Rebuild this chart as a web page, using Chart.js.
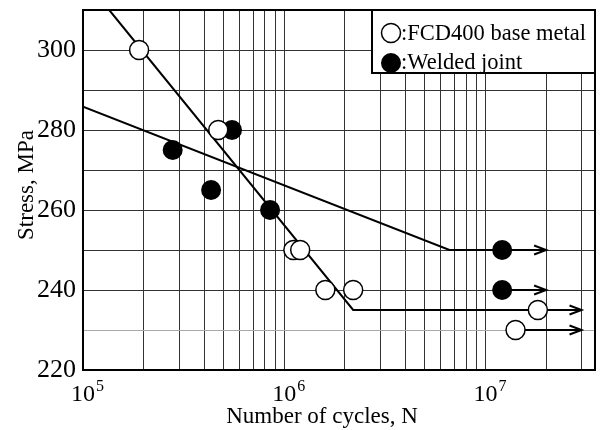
<!DOCTYPE html>
<html>
<head>
<meta charset="utf-8">
<script src="https://cdn.jsdelivr.net/npm/chart.js@4"></script>
<style>
  body { margin: 0; background: #fff; }
  #sn { display: block; }
</style>
</head>
<body>
<canvas id="sn" width="603" height="430"></canvas>
<script>
// test results
const baseCycles = [1.9e5, 4.7e5, 1.11e6, 1.2e6, 1.6e6, 2.2e6, 1.82e7, 1.41e7];
const baseStress = [300, 280, 250, 250, 240, 240, 235, 230];
const weldCycles = [2.79e5, 4.33e5, 5.5e5, 8.5e5, 1.21e7, 1.21e7];
const weldStress = [275, 265, 280, 260, 250, 240];

// S-N curves
const baseCurveCycles = [1.35e5, 2.2e6, 1.82e7];
const baseCurveStress = [310, 235, 235];
const weldCurveCycles = [1e5, 6.62e6, 1.21e7];
const weldCurveStress = [285.8, 250, 250];

// run-out arrows (not failed)
const runoutFrom = [1.21e7, 1.21e7, 1.82e7, 1.41e7];
const runoutTo = [2e7, 2e7, 3e7, 3e7];
const runoutStress = [250, 240, 235, 230];

// axes
const xDecades = [1e5, 1e6, 1e7];
const xDecadeExp = ['5', '6', '7'];
const xGridValues = [];
for (const d of [1e5, 1e6, 1e7]) {
  for (let m = 1; m <= 9; m++) xGridValues.push(m * d);
}
const yTickValues = [220, 230, 240, 250, 260, 270, 280, 290, 300, 310];
const yLabelValues = [220, 240, 260, 280, 300];

const legendLabels = [':FCD400 base metal', ':Welded joint'];
const xTitle = 'Number of cycles, N';
const yTitle = 'Stress, MPa';

const FONT = "'Liberation Serif', 'Times New Roman', serif";
const X_MIN = 1e5, X_MAX = 3.5e7;

const pts = (xs, ys) => xs.map((x, i) => ({ x: x, y: ys[i] }));

const datasets = [
  {
    label: 'FCD400 base metal',
    data: pts(baseCycles, baseStress),
    pointRadius: 9.5,
    pointBackgroundColor: '#fff',
    pointBorderColor: '#000',
    pointBorderWidth: 1.5,
    showLine: false,
    order: 0
  },
  {
    label: 'Welded joint',
    data: pts(weldCycles, weldStress),
    pointRadius: 10,
    pointBackgroundColor: '#000',
    pointBorderColor: '#000',
    pointBorderWidth: 0,
    showLine: false,
    order: 1
  },
  {
    label: 'base curve',
    data: pts(baseCurveCycles, baseCurveStress),
    showLine: true,
    borderColor: '#000',
    borderWidth: 2,
    pointRadius: 0,
    order: 5
  },
  {
    label: 'weld curve',
    data: pts(weldCurveCycles, weldCurveStress),
    showLine: true,
    borderColor: '#000',
    borderWidth: 2,
    pointRadius: 0,
    order: 5
  }
];

runoutStress.forEach((s, i) => {
  datasets.push({
    label: 'runout ' + i,
    data: [{ x: runoutFrom[i], y: s }, { x: runoutTo[i], y: s }],
    showLine: true,
    borderColor: '#000',
    borderWidth: 1.8,
    pointRadius: 0,
    arrow: true,
    order: 6
  });
});

const decor = {
  id: 'decor',
  afterDatasetsDraw(chart) {
    const ctx = chart.ctx;
    // arrow heads at the end of run-out lines
    ctx.save();
    ctx.strokeStyle = '#000';
    ctx.lineWidth = 2;
    chart.data.datasets.forEach((ds, i) => {
      if (!ds.arrow) return;
      const el = chart.getDatasetMeta(i).data[1];
      ctx.beginPath();
      ctx.moveTo(el.x - 12, el.y - 4.5);
      ctx.lineTo(el.x, el.y);
      ctx.lineTo(el.x - 12, el.y + 4.5);
      ctx.stroke();
    });
    ctx.restore();
  },
  afterDraw(chart) {
    const ctx = chart.ctx;
    const a = chart.chartArea;
    const xs = chart.scales.x;
    ctx.save();

    // legend box
    const lx = a.right - 223, ly = a.top;
    ctx.fillStyle = '#fff';
    ctx.fillRect(lx, ly, 223, 63);
    ctx.strokeStyle = '#000';
    ctx.lineWidth = 2;
    ctx.strokeRect(lx, ly, 223, 63);
    ctx.beginPath();
    ctx.arc(lx + 19, ly + 23, 9.5, 0, Math.PI * 2);
    ctx.lineWidth = 1.5;
    ctx.stroke();
    ctx.beginPath();
    ctx.arc(lx + 19, ly + 53, 10, 0, Math.PI * 2);
    ctx.fillStyle = '#000';
    ctx.fill();
    ctx.font = '22.5px ' + FONT;
    ctx.textAlign = 'left';
    ctx.textBaseline = 'alphabetic';
    ctx.fillText(legendLabels[0], lx + 29, ly + 30);
    ctx.fillText(legendLabels[1], lx + 29, ly + 59);

    // frame
    ctx.lineWidth = 2;
    ctx.strokeRect(a.left, a.top, a.right - a.left, a.bottom - a.top);

    // x tick labels 10^n
    xDecades.forEach((v, i) => {
      const px = xs.getPixelForValue(v);
      ctx.font = '24px ' + FONT;
      ctx.textAlign = 'center';
      ctx.fillText('10', px, a.bottom + 31);
      const w = ctx.measureText('10').width;
      ctx.font = '16px ' + FONT;
      ctx.textAlign = 'left';
      ctx.fillText(xDecadeExp[i], px + w / 2 + 1, a.bottom + 21);
    });

    // axis titles
    ctx.font = '23px ' + FONT;
    ctx.textAlign = 'center';
    ctx.fillText(xTitle, 322, a.bottom + 53);
    ctx.translate(33, 185);
    ctx.rotate(-Math.PI / 2);
    ctx.fillText(yTitle, 0, 0);
    ctx.restore();
  }
};

new Chart(document.getElementById('sn'), {
  type: 'scatter',
  data: { datasets: datasets },
  options: {
    responsive: false,
    animation: false,
    layout: {
      autoPadding: false,
      padding: { top: 10, right: 8, left: 0, bottom: 0 }
    },
    plugins: {
      legend: { display: false },
      tooltip: { enabled: false }
    },
    scales: {
      x: {
        type: 'logarithmic',
        min: X_MIN,
        max: X_MAX,
        afterBuildTicks: (scale) => {
          scale.ticks = xGridValues.filter(v => v <= X_MAX).map(v => ({ value: v }));
        },
        afterFit: (scale) => {
          scale.height = 60;
          scale.paddingLeft = 0;
          scale.paddingRight = 0;
        },
        ticks: { display: false },
        grid: { color: '#333', lineWidth: 1, drawTicks: false },
        border: { display: true, color: '#000', width: 2 }
      },
      y: {
        min: 220,
        max: 310,
        afterBuildTicks: (scale) => {
          scale.ticks = yTickValues.map(v => ({ value: v }));
        },
        afterFit: (scale) => {
          scale.width = 83;
          scale.paddingTop = 0;
          scale.paddingBottom = 0;
        },
        ticks: {
          padding: 7,
          color: '#000',
          font: { family: FONT, size: 26 },
          callback: (v) => yLabelValues.includes(v) ? String(v) : ''
        },
        grid: {
          color: (c) => c.tick && c.tick.value === 230 ? '#aaa' : '#333',
          lineWidth: 1,
          drawTicks: false
        },
        border: { display: true, color: '#000', width: 2 }
      }
    }
  },
  plugins: [decor]
});
</script>
</body>
</html>
